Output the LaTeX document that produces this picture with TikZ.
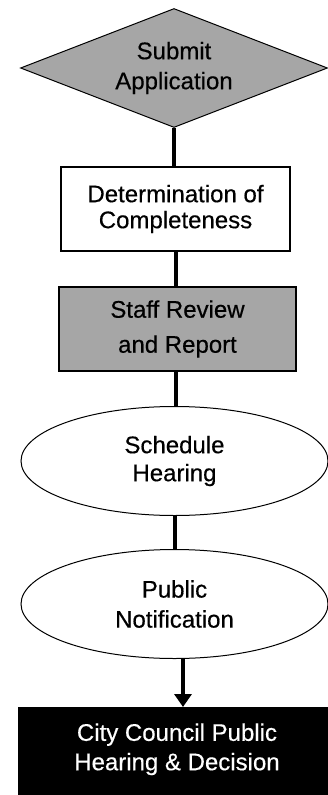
\documentclass[tikz,border=0pt]{standalone}
\usepackage{fontspec}
\setmainfont{Liberation Sans}[FakeBold=0.4]
\usetikzlibrary{shapes.geometric}
\usetikzlibrary{arrows.meta}
\definecolor{boxgray}{RGB}{166, 166, 166}

\begin{document}
\begin{tikzpicture}[x=1pt, y=-1pt,
            decision/.style = {
                diamond,
                draw=black,
                fill=boxgray,
                line width=1pt,
                aspect=2.58,
                inner sep=0pt,
                minimum width=307pt,
                minimum height=119pt,
                align=center,
                font=\fontsize{24pt}{21pt}\selectfont},
            plainbox/.style = {
                rectangle,
                draw=black,
                fill=white,
                line width=1.3pt,
                minimum width=229pt,
                minimum height=84pt,
                align=center,
                font=\fontsize{24pt}{21pt}\selectfont},
            graybox/.style = {
                plainbox,
                fill=boxgray,
                minimum width=237pt},
            oval/.style = {
                ellipse,
                draw=black,
                fill=white,
                line width=1pt,
                inner sep=0pt,
                minimum width=307pt,
                minimum height=109pt,
                align=center,
                font=\fontsize{24pt}{21pt}\selectfont},
            final/.style = {
                rectangle,
                fill=black,
                text=white,
                anchor=north,
                inner xsep=0pt,
                inner ysep=0pt,
                minimum width=318pt,
                text height=63pt,
                text depth=32pt,
                align=center,
                font=\fontsize{24pt}{21pt}\selectfont},
            link/.style = {
                line width=4pt}]
    \useasboundingbox (0,0) rectangle (328,795);

    \node[decision] (submit)   at (174,68)    {Submit\\[9pt]Application};
    \node[plainbox] (complete) at (175.5,209) {Determination of\\[5pt]Completeness};
    \node[graybox]  (review)   at (177.5,329) {Staff Review\\[14pt]and Report};
    \node[oval]     (hearing)  at (174.5,461) {Schedule\\[7pt]Hearing};
    \node[oval]     (notice)   at (174.5,604) {Public\\[9pt]Notification};
    \node[final]    (council)  at (177,707)   {City Council Public\\[6pt]Hearing \& Decision};

    \draw[link] (submit.south) -- (submit.south |- complete.north);
    \draw[link] (complete.south) -- (complete.south |- review.north);
    \draw[link] (review.south -| complete.south) -- (complete.south |- hearing.north);
    \draw[link] (hearing.south) -- (notice.north);
    \draw[link, -{Triangle[width=17pt, length=13pt]}]
        ([xshift=8.5pt]notice.south) -- ([xshift=8.5pt]notice.south |- council.north);
\end{tikzpicture}
\end{document}
